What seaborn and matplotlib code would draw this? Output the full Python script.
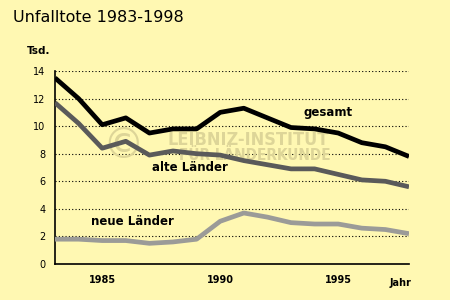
import matplotlib
matplotlib.use("Agg")
import matplotlib.pyplot as plt
import seaborn as sns
import pandas as pd

years = list(range(1983, 1999))
gesamt = [13.5, 12.0, 10.1, 10.6, 9.5, 9.8, 9.8, 11.0, 11.3, 10.6, 9.9, 9.8, 9.5, 8.8, 8.5, 7.8]
alte = [11.7, 10.2, 8.4, 8.9, 7.9, 8.2, 8.0, 7.9, 7.5, 7.2, 6.9, 6.9, 6.5, 6.1, 6.0, 5.6]
neue = [1.8, 1.8, 1.7, 1.7, 1.5, 1.6, 1.8, 3.1, 3.7, 3.4, 3.0, 2.9, 2.9, 2.6, 2.5, 2.2]
series_names = ["gesamt", "alte Länder", "neue Länder"]
yticks = [0, 2, 4, 6, 8, 10, 12, 14]
xtick_labels = {1985: "1985", 1990: "1990", 1995: "1995"}

df = pd.DataFrame({
    "Jahr": years * 3,
    "Wert": gesamt + alte + neue,
    "Reihe": [series_names[0]] * len(years) + [series_names[1]] * len(years) + [series_names[2]] * len(years),
})

bg = "#FFF8B2"
sns.set_style("white")
plt.rcParams["font.family"] = ["DejaVu Sans"]
plt.rcParams["text.color"] = "black"
plt.rcParams["xtick.color"] = "black"
plt.rcParams["ytick.color"] = "black"

fig = plt.figure(figsize=(4.5, 3.0), dpi=100, facecolor=bg)
ax = fig.add_axes([55 / 450, 1 - 264 / 300, (409 - 55) / 450, (264 - 71) / 300])
ax.set_facecolor(bg)

palette = {"gesamt": "#000000", "alte Länder": "#5a5a5a", "neue Länder": "#9b9b98"}
sns.lineplot(data=df, x="Jahr", y="Wert", hue="Reihe", palette=palette, linewidth=3.4,
             legend=False, ax=ax, solid_capstyle="butt", zorder=3)

ax.set_xlim(1983, 1998)
ax.set_ylim(0, 14)
ax.set_yticks(yticks)
ax.set_yticklabels([str(v) for v in yticks], fontsize=7)
ax.set_xticks(years)
ax.set_xticklabels([xtick_labels.get(y, "") for y in years], fontsize=7, fontweight="bold")
ax.tick_params(axis="both", direction="out", length=4, width=1, color="black", labelcolor="black", pad=3)
ax.tick_params(axis="x", pad=4)
for v in yticks[1:]:
    ax.axhline(v, color="black", linestyle=(0, (1, 2)), linewidth=0.8, zorder=1)
for s in ["top", "right"]:
    ax.spines[s].set_visible(False)
for s in ["left", "bottom"]:
    ax.spines[s].set_color("black")
    ax.spines[s].set_linewidth(1.2)
ax.set_xlabel("")
ax.set_ylabel("")

# watermark (behind the lines)
wm = "#ddd598"
ax.text(123 / 450, 1 - 146 / 300, "©", transform=fig.transFigure, fontsize=30,
        color=wm, ha="center", va="center", zorder=2)
ax.text(248 / 450, 1 - 140 / 300, "LEIBNIZ-INSTITUT", transform=fig.transFigure, fontsize=13,
        fontweight="bold", fontstretch="condensed", color=wm, ha="center", va="center", zorder=2)
ax.text(255 / 450, 1 - 155 / 300, "FÜR LÄNDERKUNDE", transform=fig.transFigure, fontsize=11,
        fontweight="bold", fontstretch="condensed", color=wm, ha="center", va="center", zorder=2)

fig.text(13 / 450, 1 - 18 / 300, "Unfalltote 1983-1998", fontsize=11.5, ha="left", va="center")
fig.text(27 / 450, 1 - 51 / 300, "Tsd.", fontsize=7.5, fontweight="bold", ha="left", va="center")
fig.text(390 / 450, 1 - 283 / 300, "Jahr", fontsize=7, fontweight="bold", ha="left", va="center")

ax.text(1994.55, 11.0, "gesamt", fontsize=8.5, fontweight="bold", ha="center", va="center", zorder=5)
ax.text(1988.7, 7.0, "alte Länder", fontsize=8.5, fontweight="bold", ha="center", va="center", zorder=5)
ax.text(1986.3, 3.05, "neue Länder", fontsize=8.5, fontweight="bold", ha="center", va="center", zorder=5)

fig.savefig("out.png", dpi=100, facecolor=bg)
